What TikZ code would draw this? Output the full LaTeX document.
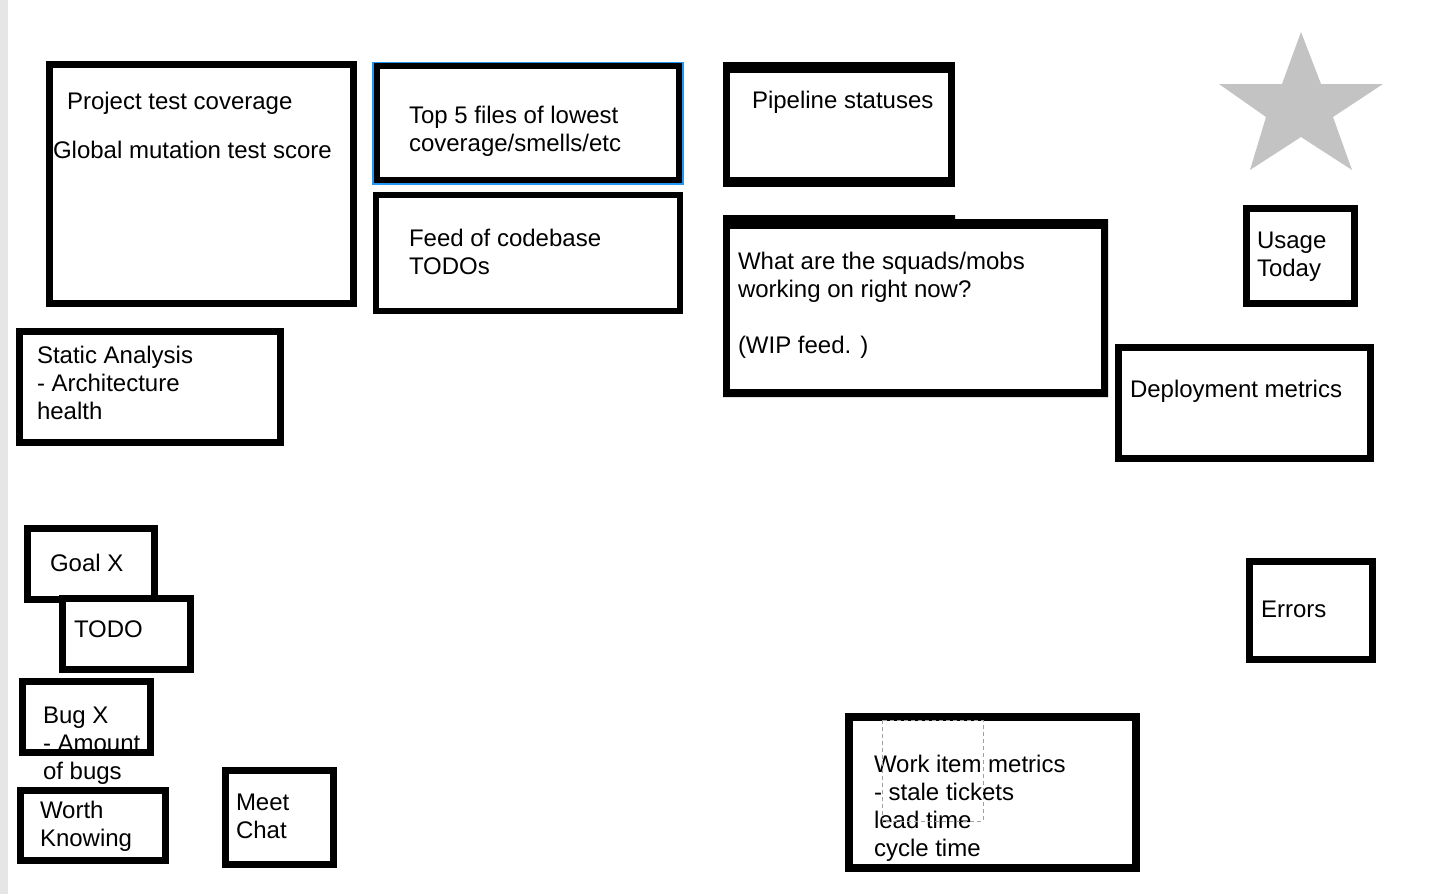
\documentclass[tikz,border=0pt]{standalone}
\usepackage{fontspec}
\setmainfont{Liberation Sans}
\definecolor{stripgray}{HTML}{E6E6E6}
\definecolor{stargray}{HTML}{C3C3C3}
\definecolor{selblue}{HTML}{2196F3}
\definecolor{dashgray}{HTML}{A0A0A0}
\begin{document}
\begin{tikzpicture}[x=1pt,y=-1pt,
  panel/.style={draw=black, line width=7pt, fill=white},
  thinpanel/.style={draw=black, line width=6pt, fill=white},
  lbl/.style={anchor=base west, inner sep=0pt, outer sep=0pt, align=left,
    font=\fontsize{24}{28}\selectfont, text=black}]
\useasboundingbox (0,0) rectangle (1436,894);
\fill[white] (0,0) rectangle (1436,894);
\fill[stripgray] (0,0) rectangle (8,894);

% Project test coverage
\draw[panel] (49.5,64.5) rectangle (353.5,303.5);
\node[lbl] (ptc) at (67,109) {Project test coverage};
\node[lbl] (gmt) at (53,158) {Global mutation test score};

% Top 5 files (anchor = baseline of last line)
\draw[selblue, line width=2pt] (373,63) rectangle (683,184);
\draw[thinpanel] (377,66) rectangle (679,180);
\node[lbl] (top5) at (409,151) {Top 5 files of lowest\\coverage/smells/etc};

% Feed of codebase TODOs
\draw[thinpanel] (376,195) rectangle (680,311);
\node[lbl] (feed) at (409,274) {Feed of codebase\\TODOs};

% Pipeline statuses
\fill[black] (723,62) rectangle (955,187);
\fill[white] (730,73) rectangle (948,177);
\node[lbl] (pipe) at (752,108) {Pipeline statuses};

% WIP feed
\fill[black] (723,215) -| (955,219) -| (1108,397) -| cycle;
\fill[white] (730,229) rectangle (1101,389);
\node[lbl] (wip) at (738,353) {What are the squads/mobs\\working on right now?\\ \\(WIP feed. )};

% Star
\fill[stargray] (1301,32) -- (1321,84) -- (1383,84) -- (1333,117) -- (1352,170)
  -- (1301,137) -- (1250,170) -- (1266,117) -- (1219,84) -- (1282,84) -- cycle;

% Usage Today
\draw[panel] (1246.5,208.5) rectangle (1354.5,303.5);
\node[lbl] (usage) at (1257,276) {Usage\\Today};

% Deployment metrics
\draw[panel] (1118.5,347.5) rectangle (1370.5,458.5);
\node[lbl] (deploy) at (1130,397) {Deployment metrics};

% Errors
\draw[panel] (1249.5,561.5) rectangle (1372.5,659.5);
\node[lbl] (errors) at (1261,617) {Errors};

% Static Analysis
\draw[panel] (19.5,331.5) rectangle (280.5,442.5);
\node[lbl] (static) at (37,419) {Static Analysis\\- Architecture\\health};

% Goal X
\draw[panel] (27.5,528.5) rectangle (154.5,599.5);
\node[lbl] (goal) at (50,571) {Goal X};

% TODO
\draw[panel] (62.5,598.5) rectangle (190.5,669.5);
\node[lbl] (todo) at (74,637) {TODO};

% Bug X (border drawn over the overflowing text)
\fill[white] (22.5,681.5) rectangle (150.5,752.5);
\node[lbl] (bug) at (43,779) {Bug X\\- Amount\\of bugs};
\draw[black, line width=7pt] (22.5,681.5) rectangle (150.5,752.5);

% Worth Knowing
\draw[panel] (20.5,790.5) rectangle (165.5,860.5);
\node[lbl] (worth) at (40,846) {Worth\\Knowing};

% Meet Chat
\draw[panel] (225.5,770.5) rectangle (333.5,864.5);
\node[lbl] (meet) at (236,838) {Meet\\Chat};

% Work item metrics
\draw[draw=black, line width=8pt, fill=white] (849,717) rectangle (1136,868);
\node[lbl] (work) at (874,856) {Work item metrics\\- stale tickets\\lead time\\cycle time};
\draw[dashgray, line width=1pt, dash pattern=on 4pt off 3pt] (882,720) rectangle (983,821);
\end{tikzpicture}
\end{document}
